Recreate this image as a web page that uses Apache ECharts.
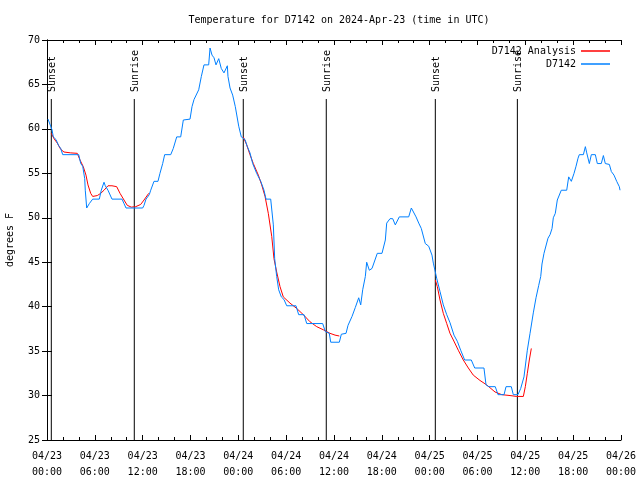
<!DOCTYPE html>
<html>
<head>
<meta charset="utf-8">
<script src="https://cdn.jsdelivr.net/npm/echarts@6/dist/echarts.min.js"></script>
<style>html,body{margin:0;padding:0;background:#fff}#c{width:640px;height:480px}</style>
</head>
<body>
<div id="c"></div>
<script>
// Hours since 2024-04-23 00:00 UTC
var obsHour = [0.13,0.46,0.63,0.79,1.13,1.47,1.72,1.97,3.98,4.23,4.48,4.73,4.80,4.98,5.31,5.73,6.56,6.81,7.15,7.31,7.65,8.15,9.41,9.66,9.91,12.0,12.17,12.42,12.83,13.01,13.42,13.92,14.17,14.51,14.76,15.52,15.84,16.27,16.77,17.10,17.94,18.19,18.44,19.03,19.36,19.69,20.28,20.45,20.70,20.95,21.20,21.54,21.86,22.20,22.62,22.70,22.96,23.29,23.62,24.05,24.37,24.62,24.84,25.13,25.46,25.80,26.30,26.81,27.22,27.47,28.06,28.39,28.56,28.81,29.06,29.39,29.73,30.07,31.23,31.57,32.24,32.58,34.58,34.91,35.41,35.59,36.67,36.92,37.51,37.76,38.26,38.67,39.10,39.35,39.60,39.93,40.10,40.43,40.77,41.43,42.02,42.44,42.61,43.03,43.36,43.69,44.19,45.37,45.70,45.95,46.29,46.63,46.95,47.45,47.88,48.29,48.46,48.71,48.88,49.30,49.71,50.14,50.55,51.05,51.47,51.89,52.39,53.22,53.65,54.81,55.07,55.41,56.23,56.57,57.33,57.58,58.24,58.49,59.08,59.42,59.83,60.25,60.59,61.00,61.34,61.50,61.68,61.93,62.09,62.34,62.59,62.84,63.10,63.35,63.51,63.76,64.01,64.51,65.19,65.44,65.77,66.11,66.36,66.61,66.77,67.28,67.53,67.70,68.03,68.28,68.78,69.03,69.53,69.79,70.03,70.54,70.79,71.12,71.46,71.79,71.88];
var obsTemp = [61.1,60.3,59.9,59.1,58.8,58.1,57.8,57.1,57.1,56.1,55.8,54.4,53.1,51.1,51.6,52.1,52.1,53.1,54.0,53.6,53.1,52.1,52.1,51.6,51.1,51.1,51.4,52.1,52.6,53.1,54.1,54.1,55.0,56.1,57.1,57.1,57.8,59.1,59.1,61.0,61.1,62.5,63.3,64.4,65.9,67.2,67.2,69.1,68.3,68.0,67.2,67.9,66.8,66.3,67.1,65.9,64.6,63.8,62.5,60.3,59.1,59.0,58.8,58.0,57.3,56.1,55.0,54.1,53.1,52.1,52.1,49.2,45.4,43.4,41.9,41.1,40.8,40.1,40.1,39.1,39.1,38.1,38.1,37.2,37.0,36.0,36.0,36.9,37.0,37.9,38.9,39.9,41.0,40.2,41.9,43.4,45.0,44.1,44.3,46.0,46.0,47.5,49.4,49.9,49.9,49.2,50.1,50.1,51.1,51.1,50.1,49.4,48.8,47.1,46.8,45.8,44.9,43.9,43.2,41.7,40.2,39.1,38.2,36.8,36.1,35.1,34.0,34.0,33.1,33.1,31.2,31.0,31.0,30.1,30.1,31.0,31.0,30.1,30.1,30.8,32.1,35.1,37.0,39.3,41.0,41.1,42.4,43.4,44.8,46.0,46.2,47.7,48.1,48.8,50.0,50.5,52.0,53.1,53.1,54.6,54.1,55.0,55.8,56.7,57.1,57.1,58.0,57.3,56.1,57.1,57.1,56.1,56.1,57.0,56.1,56.0,55.2,54.8,54.1,53.5,53.1];

var anaHour = [0.54,0.88,1.29,1.72,2.13,2.97,3.80,4.14,4.55,4.89,5.14,5.48,5.73,6.31,6.74,7.15,7.65,8.15,8.74,9.16,9.66,10.07,10.57,11.13,11.75,12.17,12.76,
  18.0,
  24.62,25.05,25.46,25.88,26.51,26.93,27.35,27.76,28.19,28.47,28.81,29.23,29.64,30.48,31.32,32.15,32.99,33.83,34.66,35.50,36.13,36.67,
  42.0,
  48.71,48.96,49.30,49.71,50.14,50.55,50.97,51.59,52.22,52.85,53.47,54.31,55.15,56.20,57.04,58.08,58.92,59.75,60.00,60.25,60.50,60.75];
var anaTemp = [59.5,58.9,58.4,57.7,57.4,57.3,57.25,56.5,55.75,54.8,53.7,52.75,52.4,52.5,52.75,53.1,53.6,53.6,53.5,52.75,52.0,51.4,51.2,51.25,51.5,52.0,52.75,
  null,
  59.1,58.2,57.1,56.1,54.8,53.7,52.4,50.5,47.9,45.4,43.9,42.25,41.1,40.4,39.8,39.1,38.3,37.75,37.4,37.0,36.8,36.7,
  null,
  43.0,42.25,40.75,39.25,38.1,37.0,36.25,35.1,34.0,33.1,32.3,31.7,31.2,30.4,30.1,30.0,29.9,29.9,31.0,32.5,34.0,35.3];

var sunHour = [0.54, 10.95, 24.62, 35.03, 48.71, 59.0];
var sunLabel = ['Sunset', 'Sunrise', 'Sunset', 'Sunrise', 'Sunset', 'Sunrise'];

var FONT = 'DejaVu Sans Mono';
function zip(a, b) { return a.map(function (v, i) { return [v, b[i]]; }); }

var chart = echarts.init(document.getElementById('c'), null, {renderer: 'canvas'});
var axisLine = {show: true, lineStyle: {color: '#000', width: 1}};
var option = {
  animation: false,
  backgroundColor: '#fff',
  title: {
    text: 'Temperature for D7142 on 2024-Apr-23 (time in UTC)',
    left: 334, top: 10, textAlign: 'center',
    textStyle: {fontFamily: FONT, fontSize: 10, fontWeight: 'normal', color: '#000'}
  },
  legend: [
    {data: ['D7142 Analysis'], right: 25, top: 41, align: 'right', icon: 'rect', itemWidth: 29, itemHeight: 1.5,
     textStyle: {fontFamily: FONT, fontSize: 10, color: '#000'}},
    {data: ['D7142'], right: 25, top: 54, align: 'right', icon: 'rect', itemWidth: 29, itemHeight: 1.5,
     textStyle: {fontFamily: FONT, fontSize: 10, color: '#000'}}
  ],
  grid: {left: 47, right: 19, top: 40, bottom: 40, containLabel: false, outerBoundsMode: 'none'},
  xAxis: [
    {type: 'value', min: 0, max: 72, interval: 6, position: 'bottom',
     axisLine: axisLine,
     axisTick: {show: true, inside: true, length: 5, lineStyle: {color: '#000'}},
     minorTick: {show: true, splitNumber: 3, length: 3, lineStyle: {color: '#000'}},
     splitLine: {show: false},
     axisLabel: {margin: 8, lineHeight: 16, fontFamily: FONT, fontSize: 10, color: '#000',
       formatter: function (v) {
         var d = 23 + Math.floor(v / 24), h = v % 24;
         return '04/' + d + '\n' + (h < 10 ? '0' : '') + h + ':00';
       }}},
    {type: 'value', min: 0, max: 72, interval: 6, position: 'top',
     axisLine: axisLine,
     axisTick: {show: true, inside: true, length: 5, lineStyle: {color: '#000'}},
     minorTick: {show: true, splitNumber: 3, length: 3, lineStyle: {color: '#000'}},
     splitLine: {show: false}, axisLabel: {show: false}}
  ],
  yAxis: [
    {type: 'value', min: 25, max: 70, interval: 5, position: 'left',
     name: 'degrees F', nameLocation: 'middle', nameGap: 32, nameRotate: 90,
     nameTextStyle: {fontFamily: FONT, fontSize: 10, color: '#000'},
     axisLine: axisLine,
     axisTick: {show: true, inside: true, length: 5, lineStyle: {color: '#000'}},
     splitLine: {show: false},
     axisLabel: {margin: 7, fontFamily: FONT, fontSize: 10, color: '#000'}},
    {type: 'value', min: 25, max: 70, interval: 5, position: 'right',
     axisLine: axisLine,
     axisTick: {show: true, inside: true, length: 5, lineStyle: {color: '#000'}},
     splitLine: {show: false}, axisLabel: {show: false}}
  ],
  series: [
    {type: 'custom', xAxisIndex: 0, yAxisIndex: 0, silent: true, z: 1,
     data: sunHour.map(function (h) { return [h, 25]; }),
     renderItem: function (params, api) {
       var p = api.coord([api.value(0), api.value(1)]);
       var top = params.coordSys.y;
       return {type: 'group', children: [
         {type: 'line', shape: {x1: p[0], y1: top + 59, x2: p[0], y2: p[1]}, style: {stroke: '#000', lineWidth: 1}},
         {type: 'text', x: p[0] + 1, y: top + 52, rotation: Math.PI / 2,
          style: {text: sunLabel[params.dataIndex], fill: '#000', font: '10px ' + FONT, align: 'left', verticalAlign: 'middle'}}
       ]};
     }},
    {name: 'D7142 Analysis', type: 'line', xAxisIndex: 0, yAxisIndex: 0, showSymbol: false, connectNulls: false, z: 2,
     data: zip(anaHour, anaTemp), color: '#ff0000', lineStyle: {color: '#ff0000', width: 1}},
    {name: 'D7142', type: 'line', xAxisIndex: 0, yAxisIndex: 0, showSymbol: false, z: 3,
     data: zip(obsHour, obsTemp), color: '#0080ff', lineStyle: {color: '#0080ff', width: 1}}
  ]
};
chart.setOption(option);
</script>
</body>
</html>
